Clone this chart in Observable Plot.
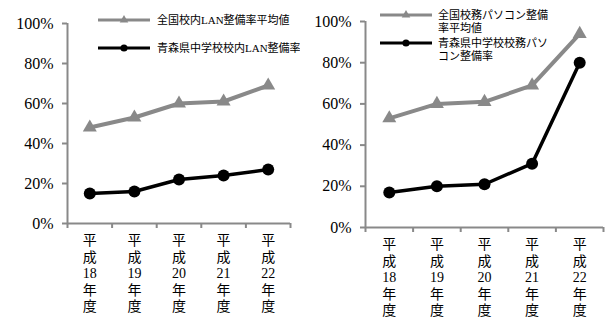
<!DOCTYPE html>
<html>
<head>
<meta charset="utf-8">
<script src="https://cdn.jsdelivr.net/npm/d3@7"></script>
<script src="https://cdn.jsdelivr.net/npm/@observablehq/plot@0.6"></script>
<style>
  body { margin: 0; background: #fff; }
  #wrap { position: relative; width: 605px; height: 320px; overflow: hidden; background: #fff; }
  #wrap > div { position: absolute; top: 0; }
  #left { left: 0; }
  #right { left: 300px; }
</style>
</head>
<body>
<div id="wrap"><div id="left"></div><div id="right"></div></div>
<script>
// Fiscal years (Heisei 18–22)
const yearNums = ["18", "19", "20", "21", "22"];

// School LAN coverage rate
const lanNational = [0.48, 0.53, 0.60, 0.61, 0.69];
const lanAomori   = [0.15, 0.16, 0.22, 0.24, 0.27];

// Administrative PC coverage rate
const pcNational = [0.53, 0.60, 0.61, 0.69, 0.94];
const pcAomori   = [0.17, 0.20, 0.21, 0.31, 0.80];

// Legend texts (one array of lines per series)
const lanLegend = [["全国校内LAN整備率平均値"], ["青森県中学校校内LAN整備率"]];
const pcLegend  = [["全国校務パソコン整備", "率平均値"], ["青森県中学校校務パソ", "コン整備率"]];

const yTicks = [0, 0.2, 0.4, 0.6, 0.8, 1];

const GRAY = "#898989";
const FONT = "'Liberation Serif', 'Noto Sans CJK JP', serif";

function rows(values) {
  return values.map((v, i) => ({ i: i + 1, v }));
}

function chart({ national, aomori, width, marginLeft, marginRight, marginTop, marginBottom, legend, lg }) {
  const idx = yearNums.map((_, i) => i + 1);
  const bounds = [0.5, ...idx.map(i => i + 0.5)];
  const nat = rows(national), aom = rows(aomori);
  const plot = Plot.plot({
    width, height: 320, marginLeft, marginRight, marginTop, marginBottom,
    style: { fontFamily: FONT, fontSize: "16px", color: "#000", background: "#fff", overflow: "visible" },
    x: { type: "linear", domain: [0.5, 5.5], axis: null },
    y: { domain: [0, 1], axis: null },
    marks: [
      Plot.ruleX([0.5], { y1: 0, y2: 1, stroke: GRAY, strokeWidth: 2 }),
      Plot.ruleY([0], { x1: 0.5, x2: 5.5, stroke: GRAY, strokeWidth: 2 }),
      Plot.axisY(yTicks, { label: null, tickFormat: d3.format(".0%"), tickSize: 5, tickPadding: 9, stroke: GRAY, strokeWidth: 2, fill: "#000", fontSize: 16 }),
      Plot.axisX(bounds, { label: null, tickFormat: () => "", tickSize: 5, stroke: GRAY, strokeWidth: 2 }),
      Plot.axisX(idx, {
        label: null,
        tickFormat: i => ["平", "成", yearNums[i - 1], "年", "度"].join("\n"),
        tickSize: 0, tickPadding: 10, lineHeight: 1.18, fontSize: 14, fill: "#000"
      }),
      Plot.line(nat, { x: "i", y: "v", stroke: GRAY, strokeWidth: 4 }),
      Plot.dot(nat, { x: "i", y: "v", symbol: "triangle", fill: GRAY, r: 5.2 }),
      Plot.line(aom, { x: "i", y: "v", stroke: "#000", strokeWidth: 3.5 }),
      Plot.dot(aom, { x: "i", y: "v", fill: "#000", r: 6 })
    ]
  });

  // Legend drawn into the chart's own SVG
  const svg = d3.select(plot);
  const g = svg.append("g").attr("font-family", FONT).attr("font-size", 11).attr("text-anchor", "start");
  const entries = [
    { color: GRAY, width: 3, symbol: d3.symbolTriangle, size: 32, y: lg.y[0], lines: legend[0] },
    { color: "#000", width: 3, symbol: d3.symbolCircle, size: 40, y: lg.y[1], lines: legend[1] }
  ];
  for (const e of entries) {
    g.append("line").attr("x1", lg.x1).attr("x2", lg.x2).attr("y1", e.y).attr("y2", e.y)
      .attr("stroke", e.color).attr("stroke-width", e.width);
    g.append("path").attr("d", d3.symbol(e.symbol, e.size)())
      .attr("transform", `translate(${(lg.x1 + lg.x2) / 2},${e.y})`).attr("fill", e.color);
    e.lines.forEach((t, k) => {
      g.append("text").attr("x", lg.tx).attr("y", e.y + k * lg.lh).attr("dy", "0.35em")
        .attr("fill", "#000").text(t);
    });
  }
  return plot;
}

document.getElementById("left").append(chart({
  national: lanNational, aomori: lanAomori,
  width: 300, marginLeft: 67, marginRight: 10, marginTop: 23, marginBottom: 97,
  legend: lanLegend, lg: { x1: 98, x2: 150, tx: 157, y: [20, 48], lh: 13 }
}));

document.getElementById("right").append(chart({
  national: pcNational, aomori: pcAomori,
  width: 305, marginLeft: 65, marginRight: 2, marginTop: 21, marginBottom: 93,
  legend: pcLegend, lg: { x1: 80, x2: 132, tx: 138, y: [15, 43], lh: 13 }
}));
</script>
</body>
</html>
